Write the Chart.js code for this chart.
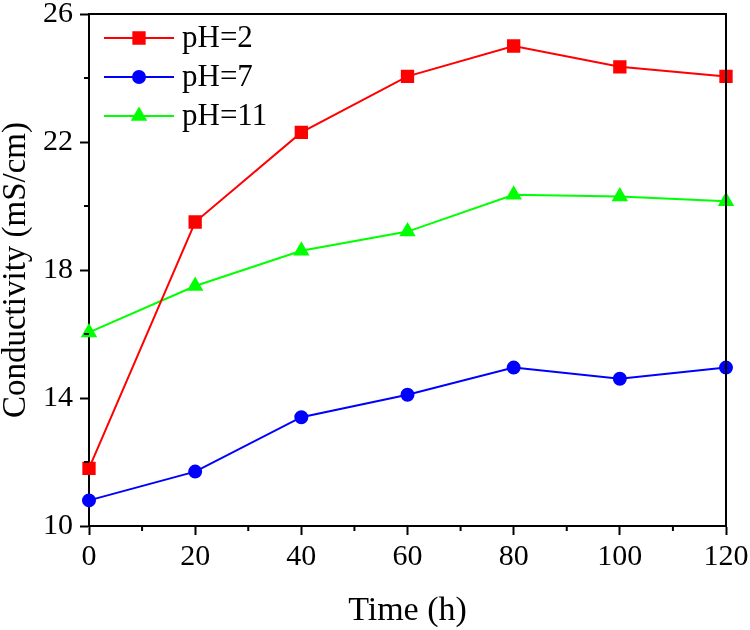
<!DOCTYPE html>
<html>
<head>
<meta charset="utf-8">
<script src="https://cdn.jsdelivr.net/npm/chart.js@4/dist/chart.umd.min.js"></script>
<style>
  body { margin: 0; background: #fff; }
  #wrap { width: 750px; height: 630px; }
</style>
</head>
<body>
<div id="wrap"><canvas id="chart" width="750" height="630"></canvas></div>
<script>
var times = [0, 20, 40, 60, 80, 100, 120];
var ph2 = [11.8, 19.5, 22.3, 24.05, 25.0, 24.35, 24.05];
var ph7 = [10.8, 11.7, 13.4, 14.1, 14.95, 14.6, 14.95];
var ph11 = [16.05, 17.5, 18.6, 19.2, 20.35, 20.3, 20.15];
var xMinorTicks = [10, 30, 50, 70, 90, 110];
var yMinorTicks = [12, 16, 20, 24];

var serif = '"Liberation Serif", "Times New Roman", serif';

function points(values) {
    return times.map(function(t, i) { return {x: t, y: values[i]}; });
}

// frame on top/right, minor ticks and the line+marker legend
var extras = {
    id: 'extras',
    afterDraw: function(chart) {
        var ctx = chart.ctx;
        var a = chart.chartArea;
        var xs = chart.scales.x, ys = chart.scales.y;
        ctx.save();
        ctx.strokeStyle = '#000';
        ctx.lineWidth = 2;
        ctx.beginPath();
        ctx.moveTo(a.left, a.top);
        ctx.lineTo(a.right, a.top);
        ctx.lineTo(a.right, a.bottom);
        ctx.stroke();
        ctx.beginPath();
        xMinorTicks.forEach(function(v) {
            var px = xs.getPixelForValue(v);
            ctx.moveTo(px, a.bottom);
            ctx.lineTo(px, a.bottom + 5);
        });
        yMinorTicks.forEach(function(v) {
            var py = ys.getPixelForValue(v);
            ctx.moveTo(a.left, py);
            ctx.lineTo(a.left - 5, py);
        });
        ctx.stroke();

        var rows = [38, 77, 116];
        chart.data.datasets.forEach(function(ds, i) {
            var y = rows[i];
            ctx.strokeStyle = ds.borderColor;
            ctx.lineWidth = ds.borderWidth;
            ctx.beginPath();
            ctx.moveTo(104, y);
            ctx.lineTo(174, y);
            ctx.stroke();
            Chart.helpers.drawPoint(ctx, {
                pointStyle: ds.pointStyle,
                radius: ds.pointRadius,
                rotation: 0,
                borderWidth: 1
            }, 139, y);
            ctx.fillStyle = ds.pointBackgroundColor;
            ctx.fill();
            ctx.fillStyle = '#000';
            ctx.font = '31px ' + serif;
            ctx.textBaseline = 'middle';
            ctx.textAlign = 'left';
            ctx.fillText(ds.label, 182, y + 1);
        });
        ctx.restore();
    }
};

function series(label, values, color, style, radius) {
    return {
        label: label,
        data: points(values),
        borderColor: color,
        backgroundColor: color,
        pointBackgroundColor: color,
        pointBorderColor: color,
        pointStyle: style,
        pointRadius: radius,
        pointHoverRadius: radius,
        borderWidth: 2,
        clip: false
    };
}

new Chart(document.getElementById('chart'), {
    type: 'line',
    data: {
        datasets: [
            series('pH=2', ph2, '#ff0000', 'rect', 8),
            series('pH=7', ph7, '#0000ff', 'circle', 6),
            series('pH=11', ph11, '#00ff00', 'triangle', 7.5)
        ]
    },
    plugins: [extras],
    options: {
        responsive: false,
        animation: false,
        events: [],
        layout: { autoPadding: false, padding: { left: 0, top: 14, right: 24, bottom: 0 } },
        plugins: { legend: { display: false }, tooltip: { enabled: false } },
        scales: {
            x: {
                type: 'linear',
                min: 0,
                max: 120,
                afterFit: function(s) {
                    s.height = 104;
                    s.paddingLeft = 0;
                    s.paddingRight = 0;
                },
                ticks: { stepSize: 20, color: '#000', padding: 4, maxRotation: 0,
                         font: { family: serif, size: 30 } },
                grid: { drawOnChartArea: false, tickLength: 9, tickColor: '#000', tickWidth: 2 },
                border: { color: '#000', width: 2 },
                title: { display: true, text: 'Time (h)', color: '#000',
                         font: { family: serif, size: 34, lineHeight: 1.1 }, padding: { top: 0, bottom: 0 } }
            },
            y: {
                min: 10,
                max: 26,
                afterFit: function(s) {
                    s.width = 89;
                    s.paddingTop = 0;
                    s.paddingBottom = 0;
                },
                ticks: { stepSize: 4, color: '#000', padding: 7,
                         font: { family: serif, size: 30 } },
                grid: { drawOnChartArea: false, tickLength: 9, tickColor: '#000', tickWidth: 2 },
                border: { color: '#000', width: 2 },
                title: { display: true, text: 'Conductivity (mS/cm)', color: '#000',
                         font: { family: serif, size: 33, lineHeight: 1.0 }, padding: { top: 0, bottom: 0 } }
            }
        }
    }
});
</script>
</body>
</html>
